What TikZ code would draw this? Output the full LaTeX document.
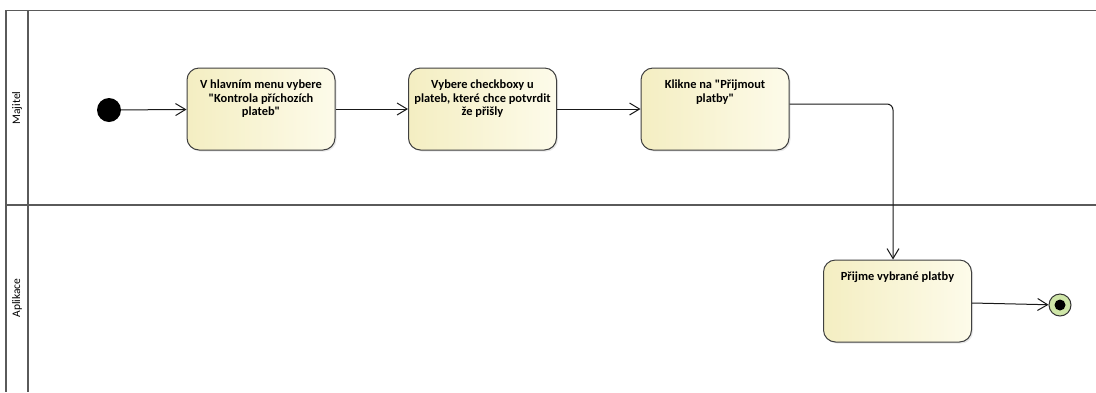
\documentclass[tikz,border=0pt]{standalone}
\usepackage{fontspec}
\setmainfont{Carlito}[Ligatures=TeXOff]
\usetikzlibrary{arrows.meta,shadows}
\definecolor{lanegray}{HTML}{5A5A5A}
\definecolor{boxleft}{HTML}{F4EEC2}
\definecolor{boxright}{HTML}{FDFBEA}
\definecolor{boxborder}{HTML}{404040}
\definecolor{endgreen}{HTML}{CFE6A8}
\tikzset{
  lane/.style={draw=lanegray, line width=1.8pt},
  lanelabel/.style={rotate=90, font=\fontsize{11.5}{13}\selectfont, text=black},
  actbox/.style={draw=boxborder, line width=1pt, rounded corners=12pt,
    left color=boxleft, right color=boxright,
    minimum width=148pt, minimum height=82pt, inner sep=0pt,
    drop shadow={shadow xshift=1.5pt, shadow yshift=-1.5pt, opacity=0.18}},
  boxtext/.style={anchor=north, yshift=-9pt, align=center,
    font=\bfseries\fontsize{12.4}{13.4}\selectfont},
  flow/.style={draw=black!90, line width=1pt,
    -{Straight Barb[length=10pt,width=12pt,line width=1pt]}},
  startdot/.style={circle, fill=black, minimum size=24pt, inner sep=0pt},
  enddot/.style={circle, draw=black!80, line width=1pt, fill=endgreen,
    minimum size=22pt, inner sep=0pt}
}
\begin{document}
\begin{tikzpicture}[x=1pt,y=-1pt]
  \useasboundingbox (0,0) rectangle (1096,392);
  \fill[white] (0,0) rectangle (1096,392);

  % swimlane frame
  \draw[lane] (1096,10.5) -- (6,10.5) -- (6,392);
  \draw[lane] (28,10.5) -- (28,392);
  \draw[lane] (6,205) -- (1096,205);
  \node[lanelabel] (laneA) at (17,108) {Majitel};
  \node[lanelabel] (laneB) at (17,298) {Aplikace};

  % activities
  \node[startdot] (start) at (109,110) {};
  \node[actbox, label={[boxtext]north:V hlavním menu vybere\\"Kontrola příchozích\\plateb"}] (b1) at (261,109) {};
  \node[actbox, label={[boxtext]north:Vybere checkboxy u\\plateb, které chce potvrdit\\že přišly}] (b2) at (482.5,109) {};
  \node[actbox, label={[boxtext]north:Klikne na "Přijmout\\platby"}] (b3) at (715,109) {};
  \node[actbox, label={[boxtext]north:Přijme vybrané platby}] (b4) at (897.5,301) {};
  \node[enddot] (final) at (1060,305) {};
  \fill[black] (final.center) circle (5.5pt);

  % control flow
  \draw[flow] (start) -- (b1);
  \draw[flow] (b1) -- (b2);
  \draw[flow] (b2) -- (b3);
  \draw[flow, rounded corners=6pt] ([yshift=5pt]b3.east) -| ([xshift=-4.5pt]b4.north);
  \draw[flow] ([yshift=-2pt]b4.east) -- (final);
\end{tikzpicture}
\end{document}
